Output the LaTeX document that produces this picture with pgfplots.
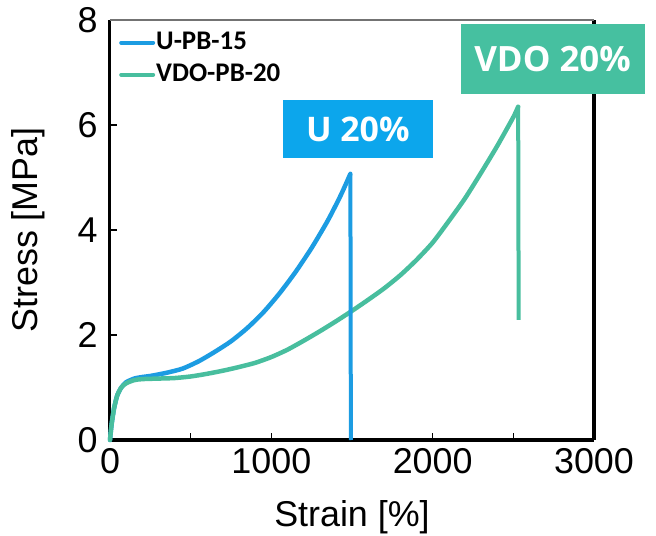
\documentclass[border=0pt]{standalone}
\usepackage{pgfplots}
\pgfplotsset{compat=1.18}
\usepackage{fontspec}
\setmainfont{Liberation Sans}
\newfontfamily\legfont{Carlito}
\newfontfamily\boxfont{Open Sans}

\definecolor{ublue}{RGB}{28,156,226}
\definecolor{vgreen}{RGB}{72,190,158}
\definecolor{uboxblue}{RGB}{12,166,236}
\definecolor{vboxgreen}{RGB}{70,192,160}

% loading curves up to break
\pgfplotstableread{
x y
0 0
10 0.30
25 0.60
45 0.85
70 1.00
100 1.10
150 1.17
200 1.20
250 1.22
350 1.28
450 1.36
550 1.50
650 1.68
750 1.88
850 2.13
950 2.43
1050 2.79
1150 3.20
1250 3.66
1350 4.18
1430 4.66
1490 5.07
}\upb

\pgfplotstableread{
x y
0 0
10 0.30
25 0.60
45 0.85
70 1.00
100 1.08
150 1.14
200 1.16
300 1.17
400 1.18
500 1.21
600 1.26
700 1.32
800 1.39
900 1.47
1000 1.58
1100 1.72
1200 1.89
1300 2.07
1400 2.26
1500 2.46
1600 2.67
1700 2.89
1800 3.14
1900 3.43
2000 3.76
2100 4.17
2200 4.60
2300 5.09
2400 5.60
2500 6.15
2530 6.35
}\vdopb

\begin{document}
\begin{tikzpicture}
\begin{axis}[name=ax,
  scale only axis, width=484bp, height=420bp,
  xmin=0, xmax=3000, ymin=0, ymax=8,
  xtick={0,1000,2000,3000}, minor xtick={500,1500,2500},
  ytick={0,2,4,6,8},
  xtick pos=bottom, ytick pos=left, tick align=inside,
  major tick length=7bp, minor tick length=7bp,
  every tick/.style={black, line width=1.2bp},
  axis line style={draw=none},
  tick label style={font=\fontsize{36}{40}\selectfont},
  xticklabel style={yshift=-5bp},
  yticklabel style={xshift=-9bp},
  /pgf/number format/assume math mode=true,
  /pgf/number format/1000 sep={},
  xlabel={Strain [\%]}, ylabel={Stress [MPa]},
  label style={font=\fontsize{36}{40}\selectfont},
  xlabel style={yshift=-20bp},
  ylabel style={yshift=26bp},
  clip=false,
  legend style={draw=none, fill=none, at={(0,1)}, anchor=north west,
    xshift=9bp, yshift=-10bp, inner sep=0pt,
    font=\legfont\bfseries\fontsize{27}{29}\selectfont,
    row sep=7bp, nodes={inner sep=1bp, text height=18bp, text depth=5bp}},
  legend cell align=left,
  legend image code/.code={\draw[#1, line width=4bp] (0bp,0bp) -- (32bp,0bp);},
]
% frame: heavy on three sides, light on top
\draw[line width=3bp, black] (rel axis cs:0,1) -- (rel axis cs:0,0);
\draw[line width=4.5bp, black] (rel axis cs:0,0) -- (rel axis cs:1,0);
\draw[line width=4bp, black] (rel axis cs:1,0) -- (rel axis cs:1,1);
\draw[line width=1.5bp, black!55] (rel axis cs:0,1) -- (rel axis cs:1,1);

\addplot[ublue, line width=4.5bp, smooth, tension=0.4, line cap=round] table[x=x, y=y] {\upb};
\addlegendentry{U-PB-15}
\addplot[vgreen, line width=4.5bp, smooth, tension=0.4, line cap=round] table[x=x, y=y] {\vdopb};
\addlegendentry{VDO-PB-20}
% rupture drops
\addplot[ublue, line width=4bp, forget plot] coordinates {(1490,5.07) (1493,0)};
\addplot[vgreen, line width=4bp, forget plot] coordinates {(2530,6.35) (2533,2.29)};

\node[fill=uboxblue, text=white, font=\boxfont\bfseries\fontsize{34}{40}\selectfont,
  minimum width=150bp, minimum height=58bp, inner sep=0pt]
  at (axis cs:1536,5.92) {U 20\%};
\node[fill=vboxgreen, text=white, font=\boxfont\bfseries\fontsize{35}{40}\selectfont,
  minimum width=184bp, minimum height=70bp, inner sep=0pt]
  at (axis cs:2743,7.26) {VDO 20\%};
\end{axis}
\pgfresetboundingbox
\path[use as bounding box] (ax.south west) ++(-110bp,-96bp) rectangle ++(656bp,536bp);
\end{tikzpicture}
\end{document}
